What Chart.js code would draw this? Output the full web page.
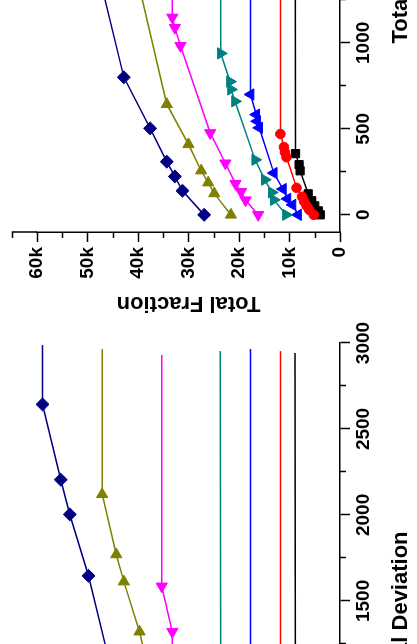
<!DOCTYPE html>
<html>
<head>
<meta charset="utf-8">
<script src="https://cdn.jsdelivr.net/npm/chart.js@4/dist/chart.umd.min.js"></script>
<style>
  html, body { margin: 0; padding: 0; background: #fff; }
  #stage { position: relative; width: 417px; height: 644px; overflow: hidden; background: #fff; }
  .strip { position: absolute; left: 0; width: 417px; height: 644px; }
  .strip canvas { position: absolute; left: 0; top: 0; transform-origin: 0 0; transform: translate(0, 644px) rotate(-90deg); }
</style>
</head>
<body>
<div id="stage">
  <div class="strip" style="top:-326px"><canvas id="c1" width="644" height="417"></canvas></div>
  <div class="strip" style="top:318px"><canvas id="c2" width="644" height="417"></canvas></div>
</div>
<script>
// values (Total Deviation, Total Fraction)
const blackDev = [0, 23, 52, 82, 122, 256, 292, 356, 2942];
const blackFrac = [3900, 4300, 5000, 5600, 6300, 7900, 8100, 8800, 8900];
const redDev = [0, 29, 52, 78, 105, 157, 335, 364, 394, 470, 2953];
const redFrac = [5200, 6100, 6600, 7100, 7500, 8600, 10600, 10900, 11100, 11800, 11800];
const blueDev = [0, 58, 93, 150, 243, 506, 544, 583, 700, 2965];
const blueFrac = [8300, 9400, 10400, 11300, 13100, 16000, 16400, 16600, 17700, 17700];
const tealDev = [0, 87, 130, 204, 320, 660, 729, 775, 939, 2953];
const tealFrac = [10700, 13100, 13500, 14900, 16800, 20800, 21600, 21800, 23600, 23700];
const magentaDev = [0, 85, 134, 181, 300, 476, 983, 1088, 1148, 1321, 1585, 2930];
const magentaFrac = [16200, 18700, 19600, 20700, 22700, 25700, 31600, 32700, 33200, 33200, 35300, 35300];
const oliveDev = [0, 124, 187, 257, 410, 643, 1321, 1612, 1770, 2120, 2965];
const oliveFrac = [21600, 24900, 26100, 27500, 30000, 34300, 39700, 42800, 44300, 47100, 47100];
const navyDev = [0, 140, 223, 309, 503, 800, 1646, 2003, 2205, 2643, 2988];
const navyFrac = [26900, 31200, 32700, 34300, 37600, 42800, 49800, 53500, 55300, 58900, 58900];

const xTicks = [0, 500, 1000, 1500, 2000, 2500, 3000];
const xMinor = [250, 750, 1250, 1750, 2250, 2750];
const yTicks = [0, 10000, 20000, 30000, 40000, 50000, 60000];
const yMinor = [5000, 15000, 25000, 35000, 45000, 55000, 65000];
const yAxisEnd = 65000;

const FONT = "'Liberation Sans', Arial, sans-serif";

function series(dev, frac, color, style, rot, r) {
  const last = dev.length - 1;
  return {
    data: dev.map((d, i) => ({ x: d, y: frac[i] })),
    borderColor: color,
    backgroundColor: color,
    borderWidth: 1.5,
    pointStyle: style,
    pointRotation: rot,
    pointRadius: ctx => ctx.dataIndex === last ? 0 : r,
    pointBorderWidth: 1,
    tension: 0,
    clip: false
  };
}

// minor ticks and the y axis line running on past the last labelled tick
const minorTicks = {
  id: 'minorTicks',
  afterDraw(chart) {
    const { ctx, chartArea, scales: { x, y } } = chart;
    ctx.save();
    ctx.strokeStyle = '#000';
    ctx.lineWidth = 1.5;
    ctx.beginPath();
    ctx.moveTo(chartArea.left, chartArea.top);
    ctx.lineTo(chartArea.left, y.getPixelForValue(yAxisEnd));
    xMinor.forEach(v => {
      const px = Math.round(x.getPixelForValue(v)) + 0.5;
      ctx.moveTo(px, chartArea.bottom);
      ctx.lineTo(px, chartArea.bottom + 6);
    });
    yMinor.forEach(v => {
      const py = Math.round(y.getPixelForValue(v)) + 0.5;
      ctx.moveTo(chartArea.left, py);
      ctx.lineTo(chartArea.left - 6, py);
    });
    ctx.stroke();
    ctx.restore();
  }
};

function makeChart(id) {
  return new Chart(document.getElementById(id), {
    type: 'line',
    data: {
      datasets: [
        series(navyDev, navyFrac, '#000080', 'rectRot', 0, 6.5),
        series(oliveDev, oliveFrac, '#808000', 'triangle', 90, 6.5),
        series(magentaDev, magentaFrac, '#FF00FF', 'triangle', 270, 6.5),
        series(tealDev, tealFrac, '#008080', 'triangle', 180, 6.5),
        series(blueDev, blueFrac, '#0000FF', 'triangle', 0, 6.5),
        series(redDev, redFrac, '#FF0000', 'circle', 0, 4.8),
        series(blackDev, blackFrac, '#000000', 'rect', 0, 5.8)
      ]
    },
    options: {
      responsive: false,
      animation: false,
      devicePixelRatio: 1,
      layout: { padding: { left: 0, right: 25, top: 37, bottom: 0 } },
      plugins: { legend: { display: false }, tooltip: { enabled: false } },
      scales: {
        x: {
          type: 'linear',
          min: -100,
          max: 3000,
          afterBuildTicks: s => { s.ticks = xTicks.map(v => ({ value: v })); },
          afterFit: s => { s.height = 77; },
          grid: { display: true, drawOnChartArea: false, drawTicks: true, tickLength: 10, tickColor: '#000', tickWidth: 1.5 },
          border: { display: true, color: '#000', width: 1.5 },
          ticks: { color: '#000', padding: 2, maxRotation: 0, font: { family: FONT, size: 19, weight: 'bold' }, callback: v => String(v) },
          title: { display: true, text: 'Total Deviation', color: '#000', padding: { top: 0, bottom: 3 }, font: { family: FONT, size: 22, weight: 'bold' } }
        },
        y: {
          type: 'linear',
          min: 0,
          max: 60000,
          afterBuildTicks: s => { s.ticks = yTicks.map(v => ({ value: v })); },
          afterFit: s => { s.width = 86; },
          grid: { display: true, drawOnChartArea: false, drawTicks: true, tickLength: 10, tickColor: '#000', tickWidth: 1.5 },
          border: { display: true, color: '#000', width: 1.5 },
          ticks: {
            color: '#000', padding: 5,
            font: { family: FONT, size: 19, weight: 'bold' },
            callback: v => v === 0 ? '0' : (v / 1000) + 'k'
          },
          title: { display: true, text: 'Total Fraction', color: '#000', padding: { top: 2, bottom: 0 }, font: { family: FONT, size: 22, weight: 'bold' } }
        }
      }
    },
    plugins: [minorTicks]
  });
}

makeChart('c1');
makeChart('c2');
</script>
</body>
</html>
